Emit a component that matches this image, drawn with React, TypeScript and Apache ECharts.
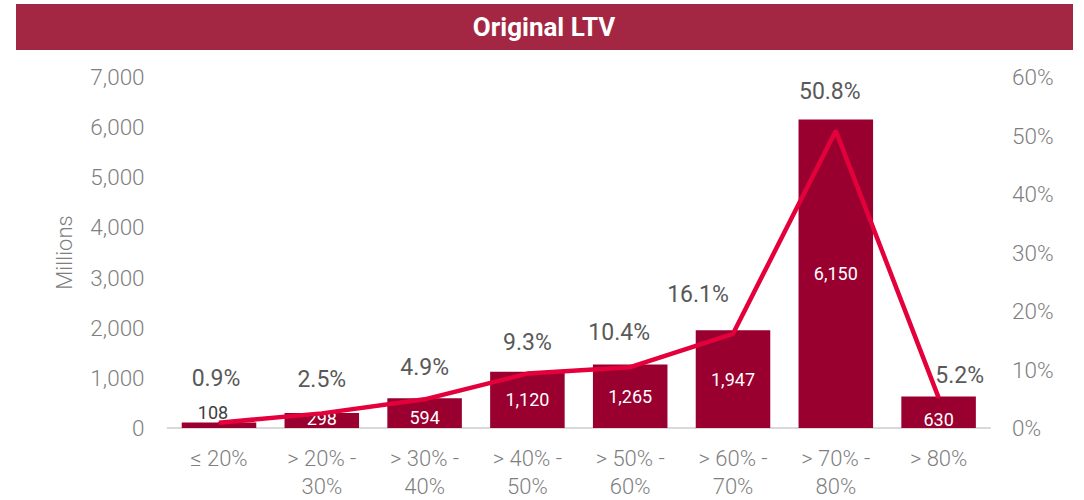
import React, { useEffect, useRef } from "react";
import * as echarts from "echarts";

const categories = ["≤ 20%", "> 20% -\n30%", "> 30% -\n40%", "> 40% -\n50%", "> 50% -\n60%", "> 60% -\n70%", "> 70% -\n80%", "> 80%"];
const balances = [108, 298, 594, 1120, 1265, 1947, 6150, 630];
const shares = [0.9, 2.5, 4.9, 9.3, 10.4, 16.1, 50.8, 5.2];
const leftTicks = { min: 0, max: 7000, interval: 1000 };
const rightTicks = { min: 0, max: 60, interval: 10 };
const title = "Original LTV";

// label placement tweaks (styling only)
const shareLabelOffsets: [number, number][] = [
  [-3, -27], [0, -16], [0, -14], [0, -14], [-11, -17], [-35, -22], [-6, -22], [21, -5],
];
const barLabelOffsets: [number, number][] = [
  [-6, 0], [0, -2], [0, 4], [0, 0], [0, 0], [0, 0], [0, 0], [0, 7],
];

const FONT = "Roboto";

export default function App() {
  const ref = useRef<HTMLDivElement>(null);
  useEffect(() => {
    if (!ref.current) return;
    const chart = echarts.init(ref.current, undefined, { renderer: "svg" });
    chart.setOption({
      animation: false,
      backgroundColor: "#ffffff",
      textStyle: { fontFamily: FONT },
      graphic: [
        {
          type: "rect",
          shape: { x: 16, y: 4, width: 1057, height: 46 },
          style: { fill: "#A32742" },
          silent: true,
        },
        {
          type: "text",
          x: 544,
          y: 27,
          style: {
            text: title,
            fill: "#ffffff",
            font: `bold 26px ${FONT}`,
            textAlign: "center",
            textVerticalAlign: "middle",
          },
          silent: true,
        },
      ],
      grid: { left: 167.6, right: 94, top: 77, bottom: 70, containLabel: false },
      xAxis: {
        type: "category",
        data: categories,
        axisLine: { show: true, lineStyle: { color: "#D9D9D9", width: 2 } },
        axisTick: { show: false },
        axisLabel: {
          color: "#7F7F7F",
          fontSize: 22,
          fontFamily: FONT,
          fontWeight: 300,
          lineHeight: 28,
          margin: 16,
          interval: 0,
        },
      },
      yAxis: [
        {
          type: "value",
          min: leftTicks.min,
          max: leftTicks.max,
          interval: leftTicks.interval,
          name: "Millions",
          nameLocation: "middle",
          nameGap: 92,
          nameTextStyle: { color: "#7F7F7F", fontSize: 22, fontFamily: FONT, fontWeight: 300 },
          axisLine: { show: false },
          axisTick: { show: false },
          splitLine: { show: false },
          axisLabel: {
            color: "#7F7F7F",
            fontSize: 22.5,
            fontFamily: FONT,
            fontWeight: 300,
            margin: 23,
            formatter: (v: number) => v.toLocaleString("en-US"),
          },
        },
        {
          type: "value",
          min: rightTicks.min,
          max: rightTicks.max,
          interval: rightTicks.interval,
          axisLine: { show: false },
          axisTick: { show: false },
          splitLine: { show: false },
          axisLabel: {
            color: "#7F7F7F",
            fontSize: 22.5,
            fontFamily: FONT,
            fontWeight: 300,
            margin: 22,
            formatter: "{value}%",
          },
        },
      ],
      series: [
        {
          type: "bar",
          yAxisIndex: 0,
          barCategoryGap: "27.5%",
          itemStyle: { color: "#990030" },
          data: balances.map((v, i) => ({
            value: v,
            label:
              i === 0
                ? { position: "top", distance: 1, color: "#404040", offset: barLabelOffsets[i] }
                : { offset: barLabelOffsets[i] },
          })),
          label: {
            show: true,
            position: "inside",
            color: "#ffffff",
            fontSize: 18,
            fontFamily: FONT,
            formatter: (p: any) => Number(p.value).toLocaleString("en-US"),
          },
          z: 2,
        },
        {
          type: "line",
          yAxisIndex: 1,
          symbol: "circle",
          symbolSize: 2,
          showSymbol: true,
          itemStyle: { color: "#E4003B" },
          lineStyle: { color: "#E4003B", width: 4.5 },
          data: shares.map((v, i) => ({ value: v, label: { show: true, offset: shareLabelOffsets[i] } })),
          label: {
            show: true,
            position: "top",
            distance: 5,
            color: "#595959",
            fontSize: 23,
            fontFamily: FONT,
            formatter: (p: any) => `${Number(p.value).toFixed(1)}%`,
          },
          z: 3,
        },
      ],
    });
    return () => chart.dispose();
  }, []);
  return (
    <div
      ref={ref}
      style={{ position: "absolute", left: 0, top: 0, width: 1084, height: 500 }}
    />
  );
}
